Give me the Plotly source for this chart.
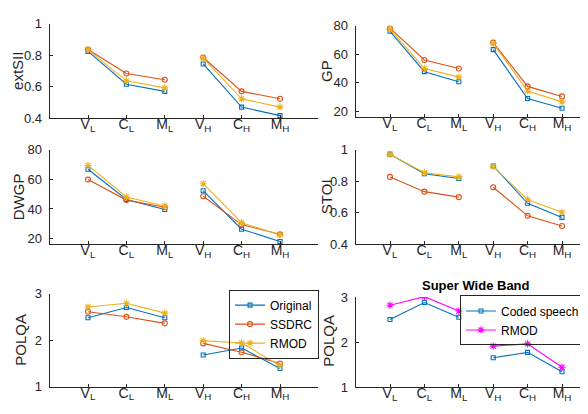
import plotly.graph_objects as go

# ---------------- data ----------------
categories = ["V<sub>L</sub>", "C<sub>L</sub>", "M<sub>L</sub>",
              "V<sub>H</sub>", "C<sub>H</sub>", "M<sub>H</sub>"]
x_low = [1, 2, 3]
x_high = [4, 5, 6]

extsii_original = [0.824, 0.615, 0.570, 0.744, 0.470, 0.416]
extsii_ssdrc    = [0.836, 0.683, 0.644, 0.785, 0.570, 0.523]
extsii_rmod     = [0.834, 0.637, 0.592, 0.781, 0.523, 0.470]

gp_original = [76.0, 47.8, 40.8, 63.2, 29.0, 22.2]
gp_ssdrc    = [78.2, 56.0, 50.0, 68.1, 37.5, 30.5]
gp_rmod     = [77.6, 50.0, 44.0, 67.6, 34.3, 26.7]

dwgp_original = [66.9, 46.4, 39.6, 52.3, 26.3, 18.0]
dwgp_ssdrc    = [59.9, 46.0, 41.2, 48.6, 29.4, 22.8]
dwgp_rmod     = [69.5, 48.1, 42.0, 57.1, 30.7, 22.4]

stoi_original = [0.973, 0.848, 0.818, 0.898, 0.660, 0.570]
stoi_ssdrc    = [0.828, 0.734, 0.699, 0.762, 0.580, 0.515]
stoi_rmod     = [0.971, 0.855, 0.828, 0.894, 0.683, 0.603]

polqa_original = [2.48, 2.70, 2.48, 1.68, 1.83, 1.39]
polqa_ssdrc    = [2.61, 2.50, 2.36, 1.93, 1.74, 1.50]
polqa_rmod     = [2.71, 2.79, 2.58, 1.99, 1.94, 1.45]

swb_coded = [2.50, 2.88, 2.55, 1.65, 1.77, 1.34]
swb_rmod  = [2.82, 3.01, 2.69, 1.91, 1.96, 1.44]

# ---------------- styles ----------------
BLUE = "#0072BD"
ORANGE = "#D95319"
YELLOW = "#EDB120"
MAGENTA = "#FF00FF"
TXT = "#262626"
FONT = "Liberation Sans, Arial, Helvetica, sans-serif"

W, H = 588, 414


def px_x(p):
    return p / W


def px_y(p):
    return 1 - p / H


fig = go.Figure()

series_styles = {
    "Original": dict(color=BLUE, symbol="square-open", size=4),
    "SSDRC": dict(color=ORANGE, symbol="circle-open", size=5),
    "RMOD": dict(color=YELLOW, symbol="asterisk-open", size=6),
    "Coded speech": dict(color=BLUE, symbol="square-open", size=4),
    "RMOD2": dict(color=MAGENTA, symbol="asterisk-open", size=6),
}


def add_series(values, name, style_key, xa, ya, show_legend=False, legend="legend"):
    st = series_styles[style_key]
    for i, xs in enumerate((x_low, x_high)):
        ys = values[:3] if i == 0 else values[3:]
        fig.add_trace(go.Scatter(
            x=xs, y=ys, mode="lines+markers", name=name,
            line=dict(color=st["color"], width=1.1),
            marker=dict(symbol=st["symbol"], size=st["size"], color=st["color"],
                        line=dict(color=st["color"], width=1.1)),
            xaxis=xa, yaxis=ya,
            showlegend=(show_legend and i == 0), legendgroup=name + legend,
            legend=legend,
        ))


panels = [
    ("x", "y", [(extsii_original, "Original", "Original"), (extsii_ssdrc, "SSDRC", "SSDRC"), (extsii_rmod, "RMOD", "RMOD")], None),
    ("x2", "y2", [(gp_original, "Original", "Original"), (gp_ssdrc, "SSDRC", "SSDRC"), (gp_rmod, "RMOD", "RMOD")], None),
    ("x3", "y3", [(dwgp_original, "Original", "Original"), (dwgp_ssdrc, "SSDRC", "SSDRC"), (dwgp_rmod, "RMOD", "RMOD")], None),
    ("x4", "y4", [(stoi_original, "Original", "Original"), (stoi_ssdrc, "SSDRC", "SSDRC"), (stoi_rmod, "RMOD", "RMOD")], None),
    ("x5", "y5", [(polqa_original, "Original", "Original"), (polqa_ssdrc, "SSDRC", "SSDRC"), (polqa_rmod, "RMOD", "RMOD")], "legend"),
    ("x6", "y6", [(swb_coded, "Coded speech", "Coded speech"), (swb_rmod, "RMOD", "RMOD2")], "legend2"),
]

for xa, ya, slist, leg in panels:
    for vals, name, key in slist:
        add_series(vals, name, key, xa, ya, show_legend=leg is not None,
                   legend=leg if leg else "legend")

left_dom = [px_x(41.6), px_x(310.4)]
right_dom = [px_x(347.6), 1.0]
right_max = (W - 347.6) / 34.4

tickvals_x = [0, 1, 2, 3, 4, 5, 6, 7]
ticktext_x = [""] + categories + [""]

common_x = dict(tickmode="array", tickvals=tickvals_x, ticktext=ticktext_x,
                ticks="inside", ticklen=3, tickcolor=TXT, showline=True,
                linecolor=TXT, linewidth=1, showgrid=False, zeroline=False,
                tickfont=dict(family=FONT, size=14, color=TXT), mirror=False,
                ticklabelstandoff=-7)
common_y = dict(ticks="inside", ticklen=3, tickcolor=TXT, showline=True,
                linecolor=TXT, linewidth=1, showgrid=False, zeroline=False,
                tickfont=dict(family=FONT, size=13, color=TXT), mirror=False,
                ticklabelstandoff=4)

layout = dict(
    width=W, height=H, margin=dict(l=0, r=0, t=0, b=0),
    paper_bgcolor="white", plot_bgcolor="white",
    font=dict(family=FONT, color=TXT),
)

layout["xaxis"] = dict(common_x, domain=left_dom, range=[0, 7], anchor="y")
layout["xaxis2"] = dict(common_x, domain=right_dom, range=[0, right_max], anchor="y2")
layout["xaxis3"] = dict(common_x, domain=left_dom, range=[0, 7], anchor="y3")
layout["xaxis4"] = dict(common_x, domain=right_dom, range=[0, right_max], anchor="y4")
layout["xaxis5"] = dict(common_x, domain=left_dom, range=[0, 7], anchor="y5")
layout["xaxis6"] = dict(common_x, domain=right_dom, range=[0, right_max], anchor="y6")

layout["yaxis"] = dict(common_y, domain=[px_y(107), px_y(9)], range=[0.4, 1.0],
                       tickvals=[0.4, 0.6, 0.8, 1], ticktext=["0.4", "0.6", "0.8", "1"], anchor="x")
layout["yaxis2"] = dict(common_y, domain=[px_y(106), px_y(11)], range=[16, 80],
                        tickvals=[20, 40, 60, 80], anchor="x2")
layout["yaxis3"] = dict(common_y, domain=[px_y(238), px_y(140)], range=[16, 80],
                        tickvals=[20, 40, 60, 80], anchor="x3")
layout["yaxis4"] = dict(common_y, domain=[px_y(237.7), px_y(140)], range=[0.4, 1.0],
                        tickvals=[0.4, 0.6, 0.8, 1], ticktext=["0.4", "0.6", "0.8", "1"], anchor="x4")
layout["yaxis5"] = dict(common_y, domain=[px_y(385.7), px_y(289)], range=[1, 3],
                        tickvals=[1, 2, 3], anchor="x5")
layout["yaxis6"] = dict(common_y, domain=[px_y(386), px_y(292.7)], range=[1, 3],
                        tickvals=[1, 2, 3], anchor="x6")

CLEAR = "rgba(255,255,255,0)"
layout["legend"] = dict(x=px_x(311), xanchor="right", y=px_y(285), yanchor="top",
                        bgcolor=CLEAR, bordercolor=TXT, borderwidth=1,
                        font=dict(family=FONT, size=12, color="black"),
                        tracegroupgap=0, itemwidth=30)
layout["legend2"] = dict(x=px_x(577), xanchor="right", y=px_y(291), yanchor="top",
                         bgcolor=CLEAR, bordercolor=TXT, borderwidth=1,
                         font=dict(family=FONT, size=12, color="black"),
                         tracegroupgap=0, itemwidth=30)

fig.update_layout(**layout)

ytitles = [
    ("extSII", 10, 58),
    ("GP", 319, 58),
    ("DWGP", 10, 189),
    ("STOI", 318, 189),
    ("POLQA", 13, 337),
    ("POLQA", 321, 338),
]
for text, xp, yp in ytitles:
    fig.add_annotation(text=text, x=px_x(xp), y=px_y(yp), xref="paper", yref="paper",
                       showarrow=False, textangle=-90, xanchor="center", yanchor="middle",
                       font=dict(family=FONT, size=15, color=TXT))

fig.add_annotation(text="<b>Super Wide Band</b>", x=px_x(468), y=px_y(281),
                   xref="paper", yref="paper", showarrow=False,
                   xanchor="center", yanchor="middle",
                   font=dict(family=FONT, size=13, color="black"))

fig.write_html("out.html")
